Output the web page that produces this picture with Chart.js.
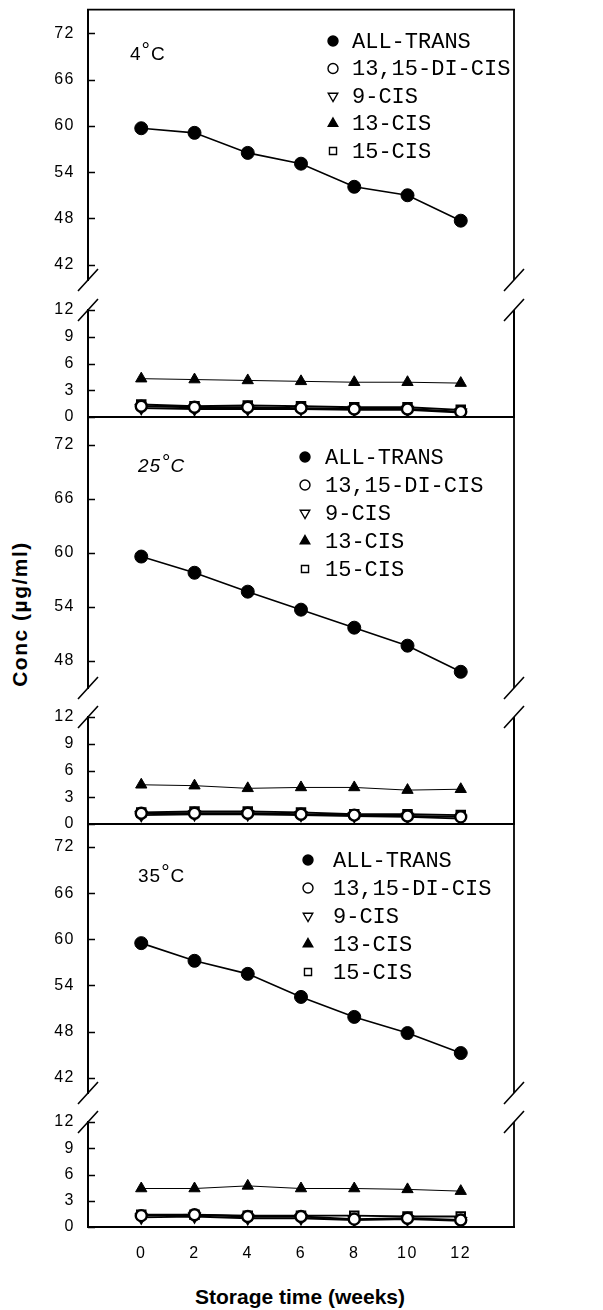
<!DOCTYPE html>
<html>
<head>
<meta charset="utf-8">
<script src="https://cdn.jsdelivr.net/npm/chart.js"></script>
<style>
  body { margin: 0; background: #fff; width: 603px; height: 1310px; position: relative; overflow: hidden; }
  canvas { position: absolute; left: 0; }
  .axis-title {
    position: absolute; white-space: nowrap; color: #000;
    font: bold 21px "Liberation Sans", Arial, sans-serif;
  }
  #ytitle { left: 20px; top: 614px; letter-spacing: 1.5px; transform: translate(-50%, -50%) rotate(-90deg); }
  #xtitle { left: 300px; top: 1297px; transform: translate(-50%, -50%); }
</style>
</head>
<body>
<div id="ytitle" class="axis-title">Conc (µg/ml)</div>
<div id="xtitle" class="axis-title">Storage time (weeks)</div>
<script>
const weeks = [0, 2, 4, 6, 8, 10, 12];
const seriesNames = ["ALL-TRANS", "13,15-DI-CIS", "9-CIS", "13-CIS", "15-CIS"];

// 4 °C
const allTrans4 = [59.7, 59.1, 56.5, 55.1, 52.1, 51.0, 47.7];
const diCis4 = [1.2, 1.1, 1.1, 1.0, 0.9, 0.9, 0.6];
const nineCis4 = [1.0, 0.9, 0.9, 0.9, 0.8, 0.8, 0.5];
const thirteenCis4 = [4.3, 4.2, 4.1, 4.0, 3.9, 3.9, 3.8];
const fifteenCis4 = [1.4, 1.2, 1.3, 1.2, 1.1, 1.1, 0.8];

// 25 °C
const allTrans25 = [59.6, 57.8, 55.7, 53.7, 51.7, 49.7, 46.8];
const diCis25 = [1.2, 1.2, 1.2, 1.1, 1.0, 0.9, 0.8];
const nineCis25 = [1.0, 1.1, 1.1, 1.0, 0.9, 0.8, 0.6];
const thirteenCis25 = [4.4, 4.3, 4.0, 4.1, 4.1, 3.8, 3.9];
const fifteenCis25 = [1.3, 1.4, 1.4, 1.3, 1.1, 1.1, 1.0];

// 35 °C
const allTrans35 = [59.5, 57.2, 55.5, 52.5, 49.9, 47.8, 45.2];
const diCis35 = [1.3, 1.4, 1.2, 1.2, 0.9, 1.0, 0.8];
const nineCis35 = [1.1, 1.2, 1.0, 1.0, 0.8, 0.9, 0.7];
const thirteenCis35 = [4.4, 4.4, 4.7, 4.4, 4.4, 4.3, 4.1];
const fifteenCis35 = [1.4, 1.4, 1.3, 1.3, 1.3, 1.2, 1.2];

// y tick labels of the broken axes
const upperTicksFrom42 = [42, 48, 54, 60, 66, 72];
const upperTicksFrom48 = [48, 54, 60, 66, 72];
const lowerTicks = [0, 3, 6, 9, 12];

// marker look for each series, same order as seriesNames
const looks = [
  { pointStyle: "circle", pointRadius: 6.5, pointBackgroundColor: "#000", pointBorderWidth: 1, borderWidth: 1.6 },
  { pointStyle: "circle", pointRadius: 5.5, pointBackgroundColor: "#fff", pointBorderWidth: 2.4, borderWidth: 1.9 },
  { pointStyle: "triangle", rotation: 180, pointRadius: 6, pointBackgroundColor: "#fff", pointBorderWidth: 2, borderWidth: 1.9 },
  { pointStyle: "triangle", pointRadius: 6.5, pointBackgroundColor: "#000", pointBorderWidth: 1, borderWidth: 1 },
  { pointStyle: "rect", pointRadius: 6, pointBackgroundColor: "#fff", pointBorderWidth: 2, borderWidth: 1.9 },
];

function buildDatasets(series) {
  return series.map(function (vals, i) {
    const look = looks[i];
    return {
      label: seriesNames[i],
      data: weeks.map((w, j) => ({ x: w, y: vals[j] })),
      borderColor: "#000",
      pointBorderColor: "#000",
      pointStyle: look.pointStyle,
      pointRotation: look.rotation || 0,
      pointRadius: look.pointRadius,
      pointBackgroundColor: look.pointBackgroundColor,
      pointBorderWidth: look.pointBorderWidth,
      borderWidth: look.borderWidth,
      tension: 0,
    };
  });
}

// wider letter spacing for the tick labels, like the typewritten original
const spacingPlugin = {
  id: "spacing",
  beforeDraw(chart) { chart.ctx.letterSpacing = "1.5px"; },
  afterDraw(chart) { chart.ctx.letterSpacing = "0px"; },
};

// right border, top/bottom lines, inward ticks and the axis break marks
const framePlugin = {
  id: "frame",
  afterDatasetsDraw(chart, args, o) {
    const { ctx, chartArea: a } = chart;
    const ys = chart.scales.y;
    ctx.save();
    ctx.strokeStyle = "#000";
    ctx.lineCap = "butt";
    ctx.lineWidth = 1.8;
    ctx.beginPath();
    ctx.moveTo(a.right, a.top);
    ctx.lineTo(a.right, a.bottom);
    if (o.top) {
      ctx.moveTo(a.left - 1, a.top);
      ctx.lineTo(a.right + 1, a.top);
    }
    if (o.bottom) {
      ctx.lineWidth = 2;
      ctx.moveTo(a.left - 1, a.bottom);
      ctx.lineTo(a.right + 1, a.bottom);
    }
    ctx.stroke();

    ctx.lineWidth = 1.5;
    ctx.beginPath();
    ys.ticks.forEach(function (t) {
      const y = Math.round(ys.getPixelForValue(t.value)) + 0.5;
      ctx.moveTo(a.left, y);
      ctx.lineTo(a.left + 7, y);
    });
    ctx.stroke();

    if (o.brk) {
      const yb = o.brk === "bottom" ? a.bottom : a.top;
      ctx.lineWidth = 1.6;
      ctx.beginPath();
      [a.left, a.right].forEach(function (x) {
        ctx.moveTo(x - 10, yb + 11);
        ctx.lineTo(x + 10, yb - 11);
      });
      ctx.stroke();
    }
    ctx.restore();
  },
};

// legend inside the plot, symbols taken from the datasets
const keyPlugin = {
  id: "key",
  afterDatasetsDraw(chart, args, o) {
    if (!o.show) return;
    const ctx = chart.ctx;
    ctx.save();
    ctx.letterSpacing = "0px";
    chart.data.datasets.forEach(function (ds, i) {
      const y = o.y0 - o.offset + i * o.dy;
      ctx.fillStyle = ds.pointBackgroundColor;
      ctx.strokeStyle = "#000";
      ctx.lineWidth = 1.4;
      Chart.helpers.drawPoint(ctx, {
        pointStyle: ds.pointStyle,
        rotation: ds.pointRotation,
        radius: ds.pointStyle === "triangle" ? 5.5 : 5,
        borderWidth: 1.4,
      }, o.symX, y);
      ctx.fillStyle = "#000";
      ctx.font = '22px "Liberation Mono", monospace';
      ctx.textAlign = "left";
      ctx.textBaseline = "middle";
      ctx.fillText(ds.label, o.textX, y + 1);
    });
    ctx.restore();
  },
};

// temperature label with a raised degree sign
const notePlugin = {
  id: "note",
  afterDatasetsDraw(chart, args, o) {
    if (!o.text) return;
    const ctx = chart.ctx;
    const st = o.italic ? "italic " : "";
    const y = o.y - o.offset;
    ctx.save();
    ctx.letterSpacing = "1px";
    ctx.fillStyle = "#000";
    ctx.textAlign = "left";
    ctx.textBaseline = "alphabetic";
    ctx.font = st + '19px "Liberation Sans", Arial, sans-serif';
    ctx.fillText(o.text, o.x, y);
    let x = o.x + ctx.measureText(o.text).width;
    ctx.font = st + '21px "Liberation Sans", Arial, sans-serif';
    ctx.fillText("°", x, y - 3);
    x += ctx.measureText("°").width;
    ctx.font = st + '19px "Liberation Sans", Arial, sans-serif';
    ctx.fillText("C", x, y);
    ctx.restore();
  },
};

const tickFont = { family: '"Liberation Sans", Arial, sans-serif', size: 16 };

function segment(seg, series) {
  const last = !!seg.xAxis;
  const canvasTop = Math.max(0, seg.top - 14);
  const height = last ? 1275 - canvasTop : seg.bottom + 14 - canvasTop;
  const canvas = document.createElement("canvas");
  canvas.width = 603;
  canvas.height = height;
  canvas.style.top = canvasTop + "px";
  canvas.style.width = "603px";
  canvas.style.height = height + "px";
  document.body.appendChild(canvas);

  new Chart(canvas, {
    type: "line",
    data: { datasets: buildDatasets(series) },
    options: {
      responsive: false,
      maintainAspectRatio: false,
      animation: false,
      devicePixelRatio: 1,
      events: [],
      layout: { autoPadding: false, padding: { top: seg.top - canvasTop, bottom: last ? 0 : 14, left: 0, right: 89 } },
      plugins: {
        legend: { display: false },
        tooltip: { enabled: false },
        frame: { top: seg.frameTop, bottom: seg.frameBottom, brk: seg.brk },
        key: Object.assign({ show: !!seg.key, offset: canvasTop }, seg.key),
        note: Object.assign({ offset: canvasTop }, seg.note),
      },
      scales: {
        x: {
          type: "linear",
          min: -2,
          max: 14,
          display: last,
          afterBuildTicks: (s) => { s.ticks = weeks.map((v) => ({ value: v })); },
          afterFit: (s) => { s.height = last ? 1275 - 1227 : 0; },
          grid: { display: false, drawTicks: true, tickLength: 17 },
          border: { display: true, color: "#000", width: 2 },
          ticks: { color: "#000", font: tickFont, padding: 0, maxRotation: 0 },
        },
        y: {
          type: "linear",
          min: seg.min,
          max: seg.max,
          afterBuildTicks: (s) => { s.ticks = seg.ticks.map((v) => ({ value: v })); },
          afterFit: (s) => { s.width = 88; },
          grid: { display: false, drawTicks: true, tickLength: 13 },
          border: { display: true, color: "#000", width: 2 },
          ticks: { color: "#000", font: tickFont, padding: 0 },
        },
      },
    },
    plugins: [spacingPlugin, framePlugin, keyPlugin, notePlugin],
  });
}

const panel4 = [allTrans4, diCis4, nineCis4, thirteenCis4, fifteenCis4];
const panel25 = [allTrans25, diCis25, nineCis25, thirteenCis25, fifteenCis25];
const panel35 = [allTrans35, diCis35, nineCis35, thirteenCis35, fifteenCis35];

// 4 °C
segment({ top: 9, bottom: 280, min: 40, max: 75.1, ticks: upperTicksFrom42, frameTop: true, brk: "bottom",
  key: { symX: 333, textX: 352, y0: 41, dy: 27.5 }, note: { text: "4", x: 130, y: 60 } }, panel4);
segment({ top: 310, bottom: 417, min: 0, max: 12, ticks: lowerTicks, frameBottom: true, brk: "top" }, panel4);

// 25 °C
segment({ top: 417, bottom: 688, min: 45, max: 75.1, ticks: upperTicksFrom48, brk: "bottom",
  key: { symX: 305, textX: 325, y0: 457, dy: 28 }, note: { text: "25", x: 138, y: 472, italic: true } }, panel25);
segment({ top: 717, bottom: 824, min: 0, max: 12, ticks: lowerTicks, frameBottom: true, brk: "top" }, panel25);

// 35 °C
segment({ top: 824, bottom: 1093, min: 40, max: 75, ticks: upperTicksFrom42, brk: "bottom",
  key: { symX: 308, textX: 333, y0: 860, dy: 28 }, note: { text: "35", x: 138, y: 882 } }, panel35);
segment({ top: 1122, bottom: 1227, min: 0, max: 12, ticks: lowerTicks, brk: "top", xAxis: true }, panel35);
</script>
</body>
</html>
